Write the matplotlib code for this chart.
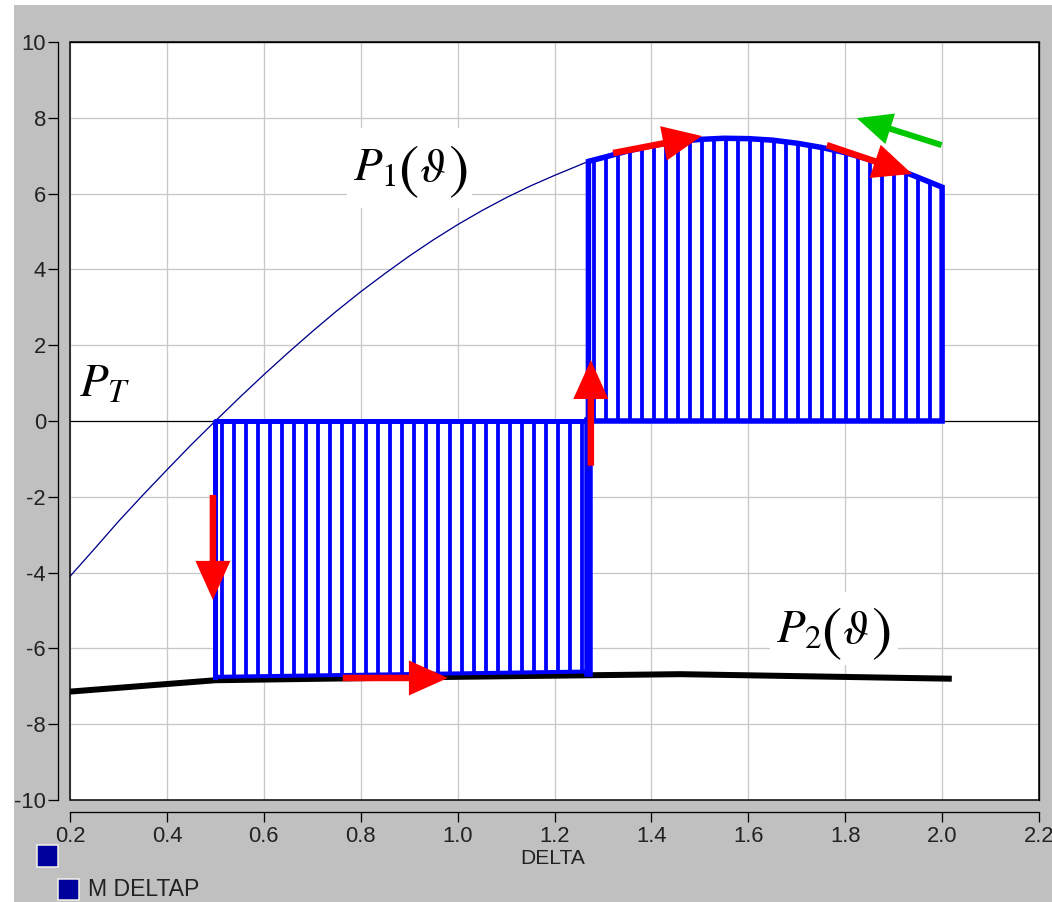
#!/usr/bin/env python3
"""Equal-area picture: P(delta) for the fault / post-fault swing."""
import numpy as np
import matplotlib
matplotlib.use("Agg")
import matplotlib.pyplot as plt
from matplotlib.patches import Rectangle
from matplotlib.transforms import offset_copy

plt.rcParams["font.family"] = ["Liberation Sans", "DejaVu Sans"]
plt.rcParams["mathtext.fontset"] = "stix"
plt.rcParams["axes.unicode_minus"] = False
plt.rcParams["hatch.linewidth"] = 3.8
plt.rcParams["hatch.color"] = "#0000ff"

DPI = 72
W, H = 1052, 902

# P1(delta): post-fault power curve
delta = [0.20, 0.25, 0.30, 0.35, 0.40, 0.45, 0.50, 0.55, 0.60, 0.65, 0.70,
         0.75, 0.80, 0.85, 0.90, 0.95, 1.00, 1.05, 1.10, 1.15, 1.20, 1.27,
         1.30, 1.35, 1.40, 1.45, 1.50, 1.55, 1.60, 1.65, 1.70, 1.75, 1.80,
         1.85, 1.90, 1.95, 2.00]
p1 = [-4.10, -3.38, -2.65, -1.96, -1.29, -0.63, 0.00, 0.62, 1.22, 1.80, 2.36,
      2.90, 3.41, 3.89, 4.35, 4.78, 5.18, 5.55, 5.89, 6.20, 6.48, 6.85,
      6.95, 7.12, 7.26, 7.37, 7.43, 7.46, 7.45, 7.41, 7.33, 7.22, 7.08,
      6.90, 6.68, 6.43, 6.17]
i_clear = delta.index(1.27)

# P2(delta): during-fault curve
delta2 = [0.20, 0.50, 1.00, 1.46, 2.02]
p2 = [-7.14, -6.84, -6.75, -6.68, -6.80]

# accelerating area (fault on) bounds
acc_delta = [0.50, 1.27]
acc_floor = [-6.75, -6.61]

# trajectory arrows (tail, tip)
red_arrows = [((0.495, -1.95), (0.495, -4.72)),
              ((0.763, -6.78), (0.980, -6.78)),
              ((1.275, -1.18), (1.275, 1.61)),
              ((1.321, 7.07), (1.504, 7.52)),
              ((1.762, 7.28), (1.938, 6.52))]
green_arrow = ((1.999, 7.28), (1.824, 7.99))

BLUE = "#0000ff"

fig = plt.figure(figsize=(W / DPI, H / DPI), dpi=DPI)
fig.add_artist(Rectangle((14 / W, 0), 1 - 14 / W, 1 - 5 / H, transform=fig.transFigure,
                         facecolor="#c0c0c0", edgecolor="none", zorder=-5))

ax = fig.add_axes([70 / W, 1 - 800 / H, 969 / W, 758 / H])
ax.set_facecolor("white")
ax.set_xlim(0.2, 2.2); ax.set_ylim(-10, 10)
ax.set_xticks(np.arange(0.2, 2.21, 0.2))
ax.set_xticklabels([f"{v:.1f}" for v in np.arange(0.2, 2.21, 0.2)])
ax.set_yticks(range(-10, 11, 2))
ax.grid(color="#c8c8c8", lw=1.3)
ax.set_axisbelow(True)
for s in ("left", "bottom"):
    ax.spines[s].set_position(("outward", 12))
for s in ax.spines.values():
    s.set_linewidth(1.3)
ax.add_patch(Rectangle((0, 0), 1, 1, transform=ax.transAxes, fill=False,
                       edgecolor="black", lw=1.5, zorder=6, clip_on=False))
ax.tick_params(direction="out", length=10, width=1.3, labelsize=22,
               labelcolor="#222222")
ax.tick_params(axis="x", pad=4)
ax.tick_params(axis="y", pad=2)

ax.axhline(0, color="black", lw=1.2, zorder=1.5)

# P1 thin trace up to clearing
ax.plot(delta[:i_clear + 1], p1[:i_clear + 1], color="#00008b", lw=1.3, zorder=2)
# P2 trace
ax.plot(delta2, p2, color="black", lw=6, zorder=2.2, solid_capstyle="butt")

# hatched areas
ax.fill_between(acc_delta, 0, acc_floor, facecolor="white", edgecolor=BLUE,
                hatch="|", lw=0, zorder=2.1)
ax.fill_between(delta[i_clear:], 0, p1[i_clear:], facecolor="white", edgecolor=BLUE,
                hatch="|", lw=0, zorder=2.1)

# area outlines
d0, d1 = acc_delta
ax.plot([d0, d0, d1], [acc_floor[0], 0, 0], color=BLUE, lw=5, zorder=3)
ax.plot(acc_delta, acc_floor, color=BLUE, lw=4, zorder=3)
ax.plot([d1, d1], [acc_floor[1], 0], color=BLUE, lw=8.5, zorder=3)
ax.plot([d1] + delta[i_clear:] + [delta[-1], d1], [0] + p1[i_clear:] + [0, 0],
        color=BLUE, lw=5.5, zorder=3, solid_joinstyle="miter")

def arrow(tail, tip, color, hl=3.9, hw=3.5, tw=0.65):
    ax.annotate("", xy=tip, xytext=tail, zorder=4,
                arrowprops=dict(arrowstyle=f"simple,head_length={hl},head_width={hw},tail_width={tw}",
                                mutation_scale=10, color=color, lw=0,
                                shrinkA=0, shrinkB=0))

for tail, tip in red_arrows:
    arrow(tail, tip, "#ff0000")
arrow(*green_arrow, "#00c800", hl=3.5, hw=3.2, tw=0.6)

def curve_label(x, y, sub, box):
    """P_sub( theta ) with tall brackets; (x, y) is the left baseline of P."""
    bx, by, bw, bh = box
    ax.add_patch(Rectangle((bx, by), bw, bh, facecolor="white", edgecolor="none", zorder=5))
    parts = [(rf"$P_{sub}$", 47, 0, 0), (r"$($", 61, 45, -6),
             (r"$\vartheta$", 47, 66, 0), (r"$)$", 61, 95, -6)]
    for s, fs, dx, dy in parts:
        ax.text(x, y, s, fontsize=fs, ha="left", va="baseline", zorder=5.5,
                transform=offset_copy(ax.transData, fig=fig, x=dx, y=dy, units="points"))

curve_label(0.784, 6.33, 1, (0.772, 5.62, 0.258, 2.11))
curve_label(1.657, -5.86, 2, (1.645, -6.44, 0.264, 1.93))
ax.text(0.272, 0.95, r"$P_T$", fontsize=47, ha="center", va="center",
        bbox=dict(facecolor="white", edgecolor="none", pad=5), zorder=5)

fig.text(553 / W, 1 - 858 / H, "DELTA", ha="center", va="center", fontsize=21,
         color="#222222")
fig.add_artist(Rectangle((37 / W, 1 - 867 / H), 21 / W, 22 / H, transform=fig.transFigure,
                         facecolor="#00009c", edgecolor="#f4f4e8", lw=1.5))
fig.add_artist(Rectangle((58 / W, 1 - 900 / H), 21 / W, 21 / H, transform=fig.transFigure,
                         facecolor="#00009c", edgecolor="#f4f4e8", lw=1.5))
fig.text(88 / W, 1 - 890 / H, "M DELTAP", ha="left", va="center", fontsize=23,
         color="#222222")

fig.savefig("out.png", dpi=DPI)
